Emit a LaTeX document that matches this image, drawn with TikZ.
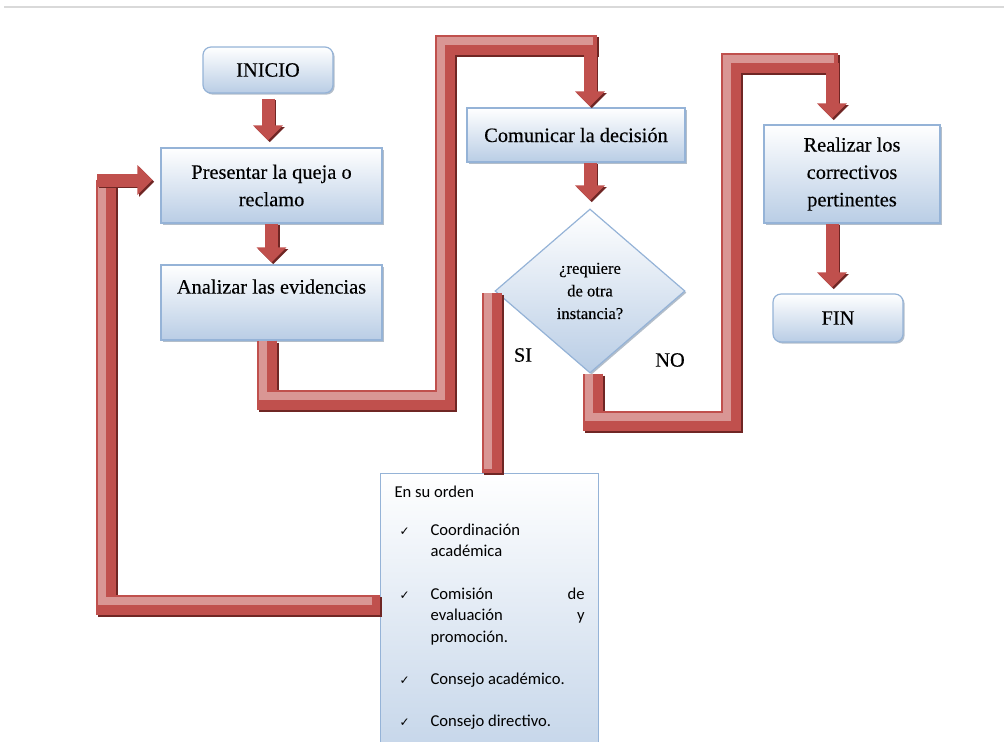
\documentclass[tikz,border=0pt]{standalone}
\usepackage{fontspec}
\setmainfont{Liberation Serif}
\newfontfamily\boxfont{Liberation Serif}[FakeBold=0.25]
\newfontfamily\listfont{Carlito}
\newfontfamily\checkfont{DejaVu Sans}
\usetikzlibrary{arrows.meta,shapes.geometric,shadows}
\definecolor{boxblue}{HTML}{B9CDE5}
\definecolor{boxline}{HTML}{95B3D7}
\definecolor{bandred}{HTML}{C0504D}
\definecolor{bandpink}{HTML}{D99694}
\definecolor{banddark}{HTML}{6F2624}
\def\bandpath#1{\draw[bandshadow] #1; \draw[bandbody] #1; \draw[bandshine] #1;}
\def\blockarrow[#1]#2{\draw[arrowshadow,#1] #2; \draw[arrowbody,#1] #2;}
\newcommand\chk{\par\hangindent=18pt\hangafter=0\noindent\llap{{\checkfont\fontsize{6}{10}\selectfont ✓}\hspace{10.5pt}}}
\tikzset{
  stepbox/.style={draw=boxline, line width=0.6pt, top color=white, bottom color=boxblue,
    drop shadow={shadow xshift=0.8pt, shadow yshift=-0.8pt, fill=boxline!70!black, opacity=0.5},
    font=\boxfont\fontsize{10.2}{13.7}\selectfont, align=center, inner sep=2pt},
  roundbox/.style={stepbox, rounded corners=4pt},
  decision/.style={stepbox, diamond, font=\boxfont\fontsize{8.3}{11.3}\selectfont, inner sep=0pt},
  listbox/.style={draw=boxline, line width=0.6pt, top color=white, bottom color=boxblue!90,
    anchor=north west, inner xsep=7pt, inner ysep=6pt, font=\listfont\fontsize{8.3}{10.7}\selectfont},
  branch/.style={font=\boxfont\fontsize{10.2}{13.7}\selectfont},
  bandbody/.style={line width=10pt, draw=bandred, line join=miter},
  bandshadow/.style={bandbody, draw=banddark, transform canvas={shift={(1pt,-1pt)}}},
  bandshine/.style={line width=4pt, draw=bandpink, line join=miter, shorten <=2pt,
    transform canvas={shift={(-1.8pt,1.8pt)}}},
  arrowbody/.style={line width=6.5pt, draw=bandred, -{Triangle[width=14.5pt,length=7.5pt]}},
  arrowshadow/.style={arrowbody, draw=banddark, transform canvas={shift={(0.9pt,-0.9pt)}}},
}
\begin{document}
\begin{tikzpicture}[x=0.5pt, y=-0.5pt]
		%%%%% START %%%%%
		\useasboundingbox (0,0) rectangle (1004,741);
		\draw[line width=1pt, draw=black!15] (4,7) -- (1004,7);
		
		\node[roundbox, minimum width=65pt, minimum height=23pt] (inicio) at (268,70) {INICIO};
		\node[stepbox, minimum width=110.5pt, minimum height=37.5pt] (presentar) at (271.5,185.5) {Presentar la queja o\\reclamo};
		\node[stepbox, minimum width=110.5pt, minimum height=37.5pt, text depth=16pt] (analizar) at (271.5,302.5) {Analizar las evidencias};
		\node[stepbox, minimum width=109pt, minimum height=27pt] (comunicar) at (576,135) {Comunicar la decisión};
		\node[decision, minimum width=95pt, minimum height=82pt] (rombo) at (590,291) {¿requiere\\de otra\\instancia?};
		\node[stepbox, minimum width=88pt, minimum height=49pt] (realizar) at (852,174) {Realizar los\\correctivos\\pertinentes};
		\node[roundbox, minimum width=65pt, minimum height=24pt] (fin) at (838,318) {FIN};
		
		\node[listbox] (lista) at (380,473) {\begin{minipage}[t][140pt][t]{95pt}\hyphenpenalty=10000
			En su orden\par\vspace{8.5pt}
			\chk Coordinación\\académica\par\vspace{10.5pt}
			\chk Comisión \hfill de\\evaluación \hfill y\\promoción.\par\vspace{10.5pt}
			\chk Consejo académico.\par\vspace{10.3pt}
			\chk Consejo directivo.
		\end{minipage}};
		
		\node[branch] (si) at (523,355) {SI};
		\node[branch] (no) at (670,360) {NO};
		
		% corners of the bands
		\coordinate (a1) at (267,400);
		\coordinate (a2) at (445,400);
		\coordinate (a3) at (445,45);
		\coordinate (a4) at (590,45);
		\coordinate (a5) at (597,45);
		\coordinate (s1) at (492,293);
		\coordinate (l1) at (106,605);
		\coordinate (l2) at (106,180);
		\coordinate (l3) at (97,180);
		\coordinate (n1) at (593,421);
		\coordinate (n2) at (731,421);
		\coordinate (n3) at (731,63);
		\coordinate (n4) at (832,63);
		\coordinate (n5) at (838,63);
		
		\bandpath{(analizar.south -| a1) -- (a1) -- (a2) -- (a3) -- (a5)}
		\bandpath{(s1) -- (s1 |- lista.north)}
		\bandpath{(lista.west |- l1) -- (l1) -- (l2)}
		\bandpath{(rombo.south -| n1) -- (n1) -- (n2) -- (n3) -- (n5)}
		
		\blockarrow[shorten <=2.5pt, shorten >=3.5pt]{(inicio.south) -- (inicio.south |- presentar.north)}
		\blockarrow[shorten >=1pt]{(presentar.south) -- (analizar.north)}
		\blockarrow[shorten >=0.5pt]{(a4) -- (a4 |- comunicar.north)}
		\blockarrow[shorten >=4pt]{(comunicar.south -| rombo.north) -- (rombo.north)}
		\blockarrow[shorten >=3pt]{(n4) -- (n4 |- realizar.north)}
		\blockarrow[shorten >=3pt]{(realizar.south -| n4) -- (fin.north -| n4)}
		\blockarrow[shorten >=4pt]{(l3) -- (presentar.west |- l3)}
		
		%%%%% END %%%%%
\end{tikzpicture}
\end{document}
